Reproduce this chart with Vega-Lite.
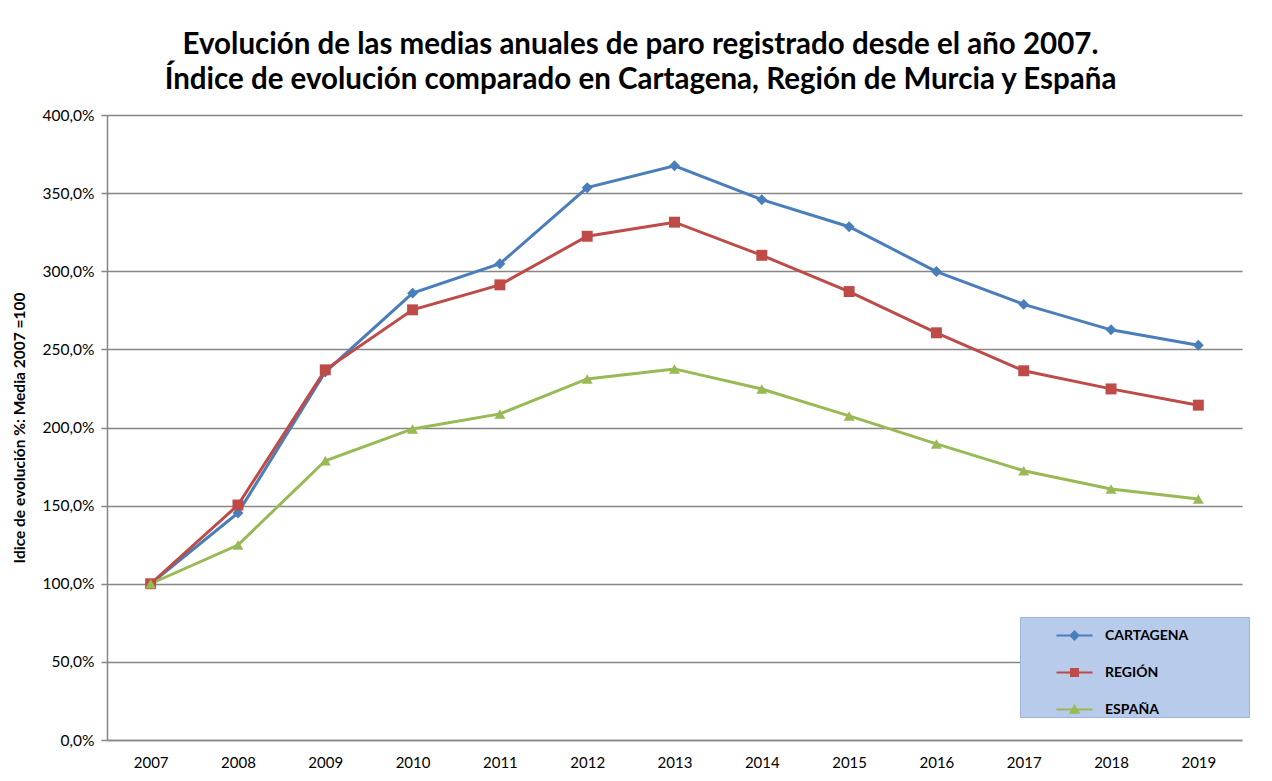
{
  "$schema": "https://vega.github.io/schema/vega-lite/v6.json",
  "width": 1135,
  "height": 625,
  "autosize": {"type": "none"},
  "padding": {"left": 107, "top": 115, "right": 30, "bottom": 41},
  "background": "white",
  "title": {
    "text": ["Evolución de las medias anuales de paro registrado desde el año 2007.", "Índice de evolución comparado en Cartagena, Región de Murcia y España"],
    "font": "Lato", "fontSize": 29.5, "fontWeight": "bold", "color": "black",
    "lineHeight": 34.5, "anchor": "middle", "dx": -34, "offset": 13
  },
  "data": {"values": [
    {"anio": "2007", "serie": "CARTAGENA", "valor": 100},
    {"anio": "2008", "serie": "CARTAGENA", "valor": 145.3},
    {"anio": "2009", "serie": "CARTAGENA", "valor": 235.5},
    {"anio": "2010", "serie": "CARTAGENA", "valor": 286.0},
    {"anio": "2011", "serie": "CARTAGENA", "valor": 304.8},
    {"anio": "2012", "serie": "CARTAGENA", "valor": 353.5},
    {"anio": "2013", "serie": "CARTAGENA", "valor": 367.5},
    {"anio": "2014", "serie": "CARTAGENA", "valor": 345.8},
    {"anio": "2015", "serie": "CARTAGENA", "valor": 328.5},
    {"anio": "2016", "serie": "CARTAGENA", "valor": 299.8},
    {"anio": "2017", "serie": "CARTAGENA", "valor": 278.8},
    {"anio": "2018", "serie": "CARTAGENA", "valor": 262.5},
    {"anio": "2019", "serie": "CARTAGENA", "valor": 252.6},
    {"anio": "2007", "serie": "REGIÓN", "valor": 100},
    {"anio": "2008", "serie": "REGIÓN", "valor": 150.4},
    {"anio": "2009", "serie": "REGIÓN", "valor": 236.9},
    {"anio": "2010", "serie": "REGIÓN", "valor": 275.3},
    {"anio": "2011", "serie": "REGIÓN", "valor": 291.3},
    {"anio": "2012", "serie": "REGIÓN", "valor": 322.4},
    {"anio": "2013", "serie": "REGIÓN", "valor": 331.4},
    {"anio": "2014", "serie": "REGIÓN", "valor": 310.2},
    {"anio": "2015", "serie": "REGIÓN", "valor": 287.0},
    {"anio": "2016", "serie": "REGIÓN", "valor": 260.6},
    {"anio": "2017", "serie": "REGIÓN", "valor": 236.3},
    {"anio": "2018", "serie": "REGIÓN", "valor": 224.7},
    {"anio": "2019", "serie": "REGIÓN", "valor": 214.3},
    {"anio": "2007", "serie": "ESPAÑA", "valor": 100},
    {"anio": "2008", "serie": "ESPAÑA", "valor": 124.8},
    {"anio": "2009", "serie": "ESPAÑA", "valor": 178.7},
    {"anio": "2010", "serie": "ESPAÑA", "valor": 199.1},
    {"anio": "2011", "serie": "ESPAÑA", "valor": 208.7},
    {"anio": "2012", "serie": "ESPAÑA", "valor": 231.1},
    {"anio": "2013", "serie": "ESPAÑA", "valor": 237.5},
    {"anio": "2014", "serie": "ESPAÑA", "valor": 224.6},
    {"anio": "2015", "serie": "ESPAÑA", "valor": 207.4},
    {"anio": "2016", "serie": "ESPAÑA", "valor": 189.5},
    {"anio": "2017", "serie": "ESPAÑA", "valor": 172.3},
    {"anio": "2018", "serie": "ESPAÑA", "valor": 160.7},
    {"anio": "2019", "serie": "ESPAÑA", "valor": 154.3}
  ]},
  "encoding": {
    "x": {
      "field": "anio", "type": "ordinal",
      "scale": {"type": "point", "padding": 0.5},
      "axis": {
        "title": null, "labelAngle": 0, "ticks": false, "grid": false,
        "domain": true, "domainColor": "#868686", "domainWidth": 1.5,
        "labelFont": "Lato", "labelFontSize": 15, "labelColor": "black", "labelPadding": 15
      }
    },
    "y": {
      "field": "valor", "type": "quantitative",
      "scale": {"domain": [0, 400], "nice": false},
      "axis": {
        "title": "Idice de evolución %: Media 2007 =100",
        "titleFont": "Lato", "titleFontSize": 15.5, "titleFontWeight": "bold", "titleColor": "black",
        "titlePadding": 15,
        "values": [0, 50, 100, 150, 200, 250, 300, 350, 400],
        "labelExpr": "replace(format(datum.value, '.1f'), '.', ',') + '%'",
        "labelFont": "Lato", "labelFontSize": 15.5, "labelColor": "black", "labelPadding": 7,
        "ticks": true, "tickSize": 6, "tickColor": "#868686", "tickWidth": 1.5,
        "domain": true, "domainColor": "#868686", "domainWidth": 1.5,
        "grid": true, "gridColor": "#868686", "gridWidth": 1.5
      }
    }
  },
  "layer": [
    {
      "mark": {"type": "line", "strokeWidth": 3},
      "encoding": {
        "color": {
          "field": "serie", "type": "nominal",
          "scale": {"domain": ["CARTAGENA", "REGIÓN", "ESPAÑA"], "range": ["#4a7ebb", "#be4b48", "#98b954"]},
          "legend": null
        }
      }
    },
    {
      "mark": {"type": "point", "filled": true, "opacity": 1, "size": 120},
      "encoding": {
        "color": {
          "field": "serie", "type": "nominal",
          "scale": {"domain": ["CARTAGENA", "REGIÓN", "ESPAÑA"], "range": ["#4a7ebb", "#be4b48", "#98b954"]},
          "legend": null
        },
        "shape": {
          "field": "serie", "type": "nominal",
          "scale": {"domain": ["CARTAGENA", "REGIÓN", "ESPAÑA"], "range": ["diamond", "square", "triangle-up"]},
          "legend": null
        }
      }
    },
    {
      "transform": [{"filter": "datum.serie == 'ninguna'"}],
      "mark": {"type": "point", "filled": true, "opacity": 1},
      "encoding": {
        "color": {
          "field": "serie", "type": "nominal",
          "scale": {"domain": ["CARTAGENA", "REGIÓN", "ESPAÑA"], "range": ["#4a7ebb", "#be4b48", "#98b954"]},
          "legend": {
            "title": "MMMM", "titleOrient": "right", "titleColor": "transparent",
            "titleFont": "Lato", "titleFontSize": 14, "titlePadding": 8,
            "orient": "none", "legendX": 913, "legendY": 502,
            "padding": 0, "symbolOffset": 36, "symbolSize": 1300, "symbolStrokeWidth": 0,
            "rowPadding": 11, "labelOffset": 12, "labelLimit": 300,
            "labelFont": "Lato", "labelFontSize": 14, "labelFontWeight": "bold", "labelColor": "black",
            "fillColor": "#b9cbea", "strokeColor": "#9fb5dc"
          }
        },
        "shape": {
          "field": "serie", "type": "nominal",
          "scale": {"domain": ["CARTAGENA", "REGIÓN", "ESPAÑA"], "range": [
            "M-1,-0.05H1V0.05H-1Z M0,-0.3L0.3,0L0,0.3L-0.3,0Z",
            "M-1,-0.05H1V0.05H-1Z M-0.25,-0.25H0.25V0.25H-0.25Z",
            "M-1,-0.05H1V0.05H-1Z M0,-0.3L0.32,0.24H-0.32Z"
          ]},
          "legend": {
            "title": "MMMM", "titleOrient": "right", "titleColor": "transparent",
            "titleFont": "Lato", "titleFontSize": 14, "titlePadding": 8,
            "orient": "none", "legendX": 913, "legendY": 502,
            "padding": 0, "symbolOffset": 36, "symbolSize": 1300, "symbolStrokeWidth": 0,
            "rowPadding": 11, "labelOffset": 12, "labelLimit": 300,
            "labelFont": "Lato", "labelFontSize": 14, "labelFontWeight": "bold", "labelColor": "black",
            "fillColor": "#b9cbea", "strokeColor": "#9fb5dc"
          }
        }
      }
    }
  ],
  "resolve": {
    "scale": {"color": "independent", "shape": "independent"},
    "legend": {"color": "independent", "shape": "independent"}
  },
  "config": {
    "view": {"stroke": null}
  }
}
